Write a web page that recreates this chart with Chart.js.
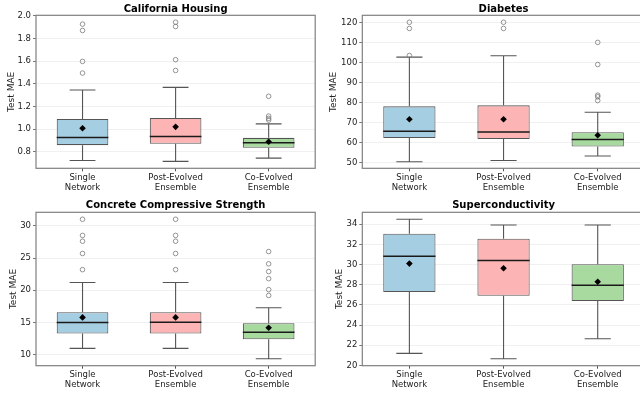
<!DOCTYPE html>
<html>
<head>
<meta charset="utf-8">
<script src="https://cdn.jsdelivr.net/npm/chart.js@4.4.1/dist/chart.umd.min.js"></script>
<style>
  html, body { margin: 0; padding: 0; background: #fff; overflow: hidden; width: 640px; height: 394px; }
  .panel { position: absolute; }
</style>
</head>
<body>
<div class="panel" style="left:0;top:0"><canvas id="housing" width="320" height="197"></canvas></div>
<div class="panel" style="left:320px;top:0"><canvas id="diabetes" width="330" height="197"></canvas></div>
<div class="panel" style="left:0;top:197px"><canvas id="concrete" width="320" height="197"></canvas></div>
<div class="panel" style="left:320px;top:197px"><canvas id="supercond" width="330" height="197"></canvas></div>
<script>
// --- data ---
const categories = [['Single', 'Network'], ['Post-Evolved', 'Ensemble'], ['Co-Evolved', 'Ensemble']];
const boxColors = ['#a6cee3', '#fcb4b4', '#a8daa0'];

// California Housing
const housingLow = [0.723, 0.715, 0.744];
const housingQ1 = [0.858, 0.870, 0.835];
const housingMed = [0.926, 0.935, 0.879];
const housingQ3 = [1.090, 1.099, 0.923];
const housingHigh = [1.346, 1.369, 1.046];
const housingMean = [1.008, 1.020, 0.888];
const housingOut = [[1.927, 1.871, 1.598, 1.495], [1.944, 1.906, 1.613, 1.518], [1.290, 1.115, 1.095, 1.080]];

// Diabetes
const diabetesLow = [50.3, 50.9, 53.2];
const diabetesQ1 = [62.2, 61.7, 57.9];
const diabetesMed = [65.6, 65.2, 61.4];
const diabetesQ3 = [78.1, 78.6, 65.1];
const diabetesHigh = [102.8, 103.5, 75.1];
const diabetesMean = [71.6, 71.6, 63.6];
const diabetesOut = [[120.3, 117.2, 103.6], [120.3, 117.2], [110.2, 99.1, 83.7, 82.9, 81.0]];

// Concrete Compressive Strength
const concreteLow = [11.0, 11.0, 9.4];
const concreteQ1 = [13.3, 13.3, 12.4];
const concreteMed = [15.0, 15.05, 13.5];
const concreteQ3 = [16.6, 16.6, 14.9];
const concreteHigh = [21.2, 21.2, 17.3];
const concreteMean = [15.8, 15.8, 14.2];
const concreteOut = [[31.0, 28.5, 27.6, 25.7, 23.2], [31.0, 28.5, 27.6, 25.7, 23.2], [26.0, 24.1, 22.9, 21.8, 20.1, 19.2]];

// Superconductivity
const superLow = [21.19, 20.66, 22.64];
const superQ1 = [27.27, 26.9, 26.38];
const superMed = [30.83, 30.4, 27.96];
const superQ3 = [33.07, 32.57, 30.04];
const superHigh = [34.5, 33.93, 33.93];
const superMean = [30.1, 29.64, 28.3];
const superOut = [[], [], []];

const FONT = 'DejaVu Sans';

// whiskers + medians, drawn right after the boxes
const boxExtras = {
    id: 'boxExtras',
    afterDatasetDraw(chart, args) {
        if (args.meta.type !== 'bar') return;
        const st = chart.options.plugins.boxExtras;
        const y = chart.scales.y;
        const ctx = chart.ctx;
        ctx.save();
        args.meta.data.forEach((bar, i) => {
            const cx = bar.x, half = bar.width / 2;
            const yq1 = y.getPixelForValue(st.q1[i]), yq3 = y.getPixelForValue(st.q3[i]);
            const ylo = y.getPixelForValue(st.low[i]), yhi = y.getPixelForValue(st.high[i]);
            ctx.strokeStyle = '#555';
            ctx.lineWidth = 1.1;
            ctx.beginPath();
            ctx.moveTo(cx, yq1); ctx.lineTo(cx, ylo);
            ctx.moveTo(cx, yq3); ctx.lineTo(cx, yhi);
            ctx.moveTo(cx - half / 2, ylo); ctx.lineTo(cx + half / 2, ylo);
            ctx.moveTo(cx - half / 2, yhi); ctx.lineTo(cx + half / 2, yhi);
            ctx.stroke();
            const ym = y.getPixelForValue(st.med[i]);
            ctx.strokeStyle = '#1a1a1a';
            ctx.lineWidth = 1.5;
            ctx.beginPath();
            ctx.moveTo(cx - half, ym); ctx.lineTo(cx + half, ym);
            ctx.stroke();
        });
        ctx.restore();
    },
    afterDraw(chart) {
        const a = chart.chartArea, ctx = chart.ctx;
        ctx.save();
        ctx.strokeStyle = '#808080';
        ctx.lineWidth = 1.2;
        ctx.strokeRect(a.left, a.top, a.right - a.left, a.bottom - a.top);
        // title centred over the plot area
        ctx.fillStyle = '#000';
        ctx.font = 'bold 10px "' + FONT + '"';
        ctx.textAlign = 'center';
        ctx.textBaseline = 'middle';
        ctx.fillText(chart.options.plugins.boxExtras.title, (a.left + a.right) / 2, chart.options.plugins.boxExtras.titleY);
        ctx.restore();
    }
};

function makePanel(id, title, st, yMin, yMax, step, dec, leftW, rightPad, areaTop, areaBottom, labelPad, titleY) {
    const outPts = [];
    st.out.forEach((vals, i) => vals.forEach(v => outPts.push({ x: i, y: v })));
    const meanPts = st.mean.map((v, i) => ({ x: i, y: v }));
    const canvas = document.getElementById(id);
    new Chart(canvas, {
        type: 'bar',
        data: {
            labels: categories,
            datasets: [
                {
                    type: 'bar', order: 3, grouped: false,
                    data: st.q1.map((v, i) => [v, st.q3[i]]),
                    backgroundColor: boxColors, borderColor: '#555', borderWidth: 1.1, borderSkipped: false,
                    categoryPercentage: 1, barPercentage: 0.555
                },
                {
                    type: 'line', order: 2, xAxisID: 'xs', showLine: false, data: outPts,
                    pointStyle: 'circle', pointRadius: 2.3, pointBorderWidth: 0.8,
                    pointBorderColor: '#7a7a7a', pointBackgroundColor: 'rgba(0,0,0,0)'
                },
                {
                    type: 'line', order: 1, xAxisID: 'xs', showLine: false, data: meanPts,
                    pointStyle: 'rectRot', pointRadius: 3.3, pointBorderWidth: 0,
                    pointBackgroundColor: '#000', pointBorderColor: '#000'
                }
            ]
        },
        options: {
            responsive: false, animation: false, devicePixelRatio: 1,
            layout: { padding: { top: areaTop, right: rightPad, left: 0, bottom: 0 } },
            plugins: {
                legend: { display: false }, tooltip: { enabled: false },
                boxExtras: { ...st, title: title, titleY: titleY }
            },
            scales: {
                x: {
                    afterFit: s => { s.height = canvas.height - areaBottom; },
                    ticks: { font: { family: FONT, size: 8.5 }, color: '#222', padding: 1, maxRotation: 0, autoSkip: false },
                    grid: { display: true, drawOnChartArea: false, offset: false, tickLength: 3, tickColor: '#555' },
                    border: { display: false }
                },
                xs: { type: 'linear', min: -0.5, max: 2.5, offset: false, display: false },
                y: {
                    min: yMin, max: yMax,
                    afterFit: s => { s.width = leftW; },
                    ticks: {
                        stepSize: step, includeBounds: false, padding: 2,
                        font: { family: FONT, size: 8.5 }, color: '#222',
                        callback: v => v.toFixed(dec)
                    },
                    grid: { color: '#ececec', lineWidth: 0.8, tickLength: 3, tickColor: '#555' },
                    border: { display: false },
                    title: { display: true, text: 'Test MAE', font: { family: FONT, size: 9 }, color: '#222', padding: { top: labelPad, bottom: 0 } }
                }
            }
        },
        plugins: [boxExtras]
    });
}

makePanel('housing', 'California Housing',
    { low: housingLow, q1: housingQ1, med: housingMed, q3: housingQ3, high: housingHigh, mean: housingMean, out: housingOut },
    0.654, 2.005, 0.2, 1, 36, 1.7, 15.3, 168.3, 6.3, 9);
makePanel('diabetes', 'Diabetes',
    { low: diabetesLow, q1: diabetesQ1, med: diabetesMed, q3: diabetesQ3, high: diabetesHigh, mean: diabetesMean, out: diabetesOut },
    47.0, 123.8, 10, 0, 42.3, 5.2, 15.3, 168.3, 8.6, 9);
makePanel('concrete', 'Concrete Compressive Strength',
    { low: concreteLow, q1: concreteQ1, med: concreteMed, q3: concreteQ3, high: concreteHigh, mean: concreteMean, out: concreteOut },
    8.32, 32.08, 5, 0, 36, 1.7, 15.3, 168.7, 8.6, 8);
makePanel('supercond', 'Superconductivity',
    { low: superLow, q1: superQ1, med: superMed, q3: superQ3, high: superHigh, mean: superMean, out: superOut },
    19.97, 35.19, 2, 0, 42.3, 5.2, 15.3, 168.7, 14.6, 8);
</script>
</body>
</html>
